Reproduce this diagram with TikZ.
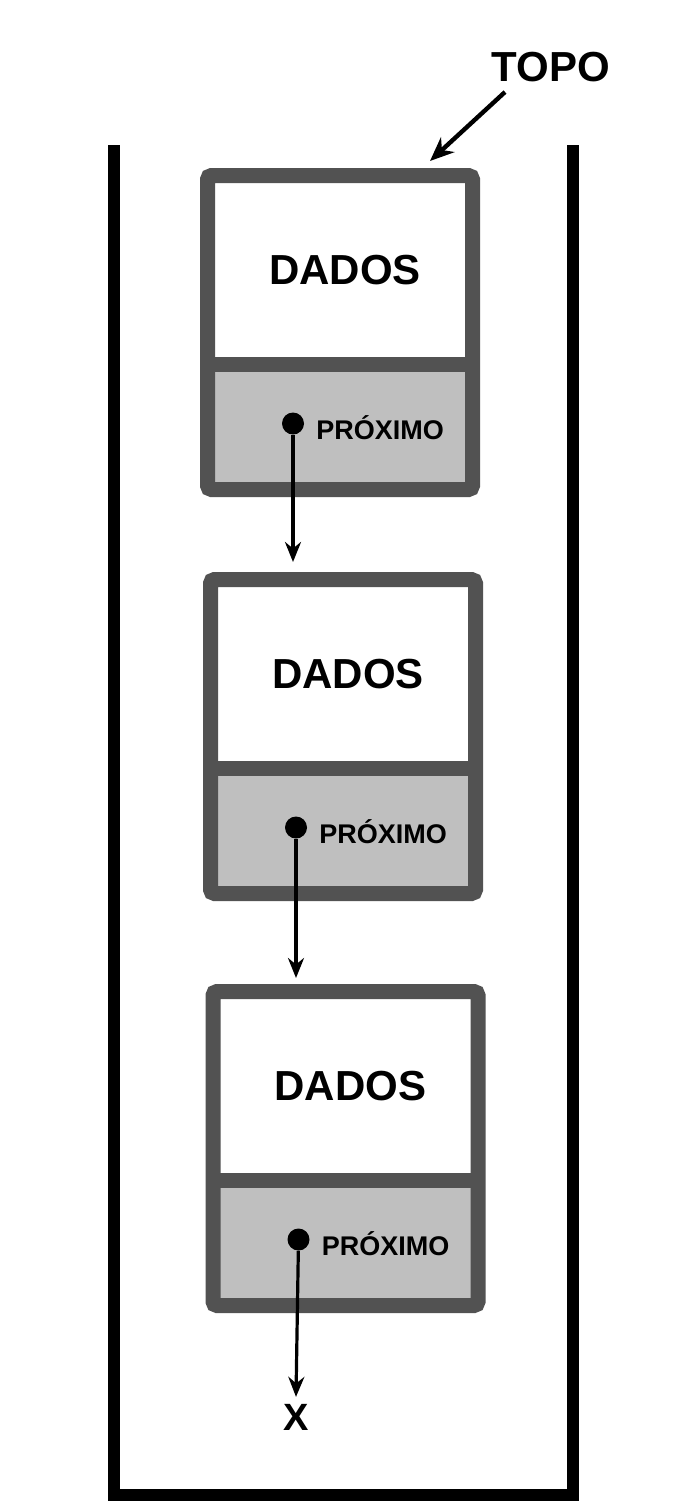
\documentclass[tikz,border=0pt]{standalone}
\usepackage{fontspec}
\setmainfont{Liberation Sans}
\usetikzlibrary{arrows.meta}
\begin{document}
\begin{tikzpicture}[x=0.5pt,y=-0.5pt,
  frame/.style={draw=black,line width=6pt},
  box/.style={draw=black!68,line width=7.5pt,rounded corners=2pt,minimum width=132.5pt,minimum height=157pt,inner sep=0pt},
  lower/.style={fill=black!25},
  dot/.style={circle,fill=black,inner sep=0pt,minimum size=11pt},
  lbl/.style={font=\bfseries\fontsize{21}{24}\selectfont},
  small/.style={font=\bfseries\fontsize{13.5}{16}\selectfont,anchor=west,inner sep=0pt},
  arr/.style={-{Stealth[length=10pt,width=8pt]},line width=1.6pt}]
\useasboundingbox (0,0) rectangle (688,1511);
\draw[frame] (114,145) -- (114,1495) -- (573,1495) -- (573,145);
\foreach \i/\x/\y in {1/340/332.5,2/343/736.5,3/345.5/1148.5}{
  \fill[black!25] (\x-132.5,\y+32) rectangle (\x+132.5,\y+157);
  \draw[black!68,line width=7.5pt] (\x-132.5,\y+32) -- (\x+132.5,\y+32);
  \node[box] (b\i) at (\x,\y) {};
  \node[lbl] (d\i) at (\x+5,\y-62) {DADOS};
  \node[dot] (p\i) at (\x-47,\y+91) {};
  \node[small] (t\i) at (\x-24,\y+95) {PRÓXIMO};
}
\coordinate (e1) at (293,562);
\coordinate (e2) at (296,978);
\node[lbl,font=\bfseries\fontsize{19}{22}\selectfont] (x) at (296,1417) {X};
\draw[arr] (p1) -- (e1);
\draw[arr] (p2) -- (e2);
\draw[arr] (p3) -- (x.north);
\node[lbl] (topo) at (551,67) {TOPO};
\coordinate (tp) at (430,161);
\draw[-{Stealth[length=12pt,width=10pt]},line width=2.2pt] (505,92) -- (tp);
\end{tikzpicture}
\end{document}
